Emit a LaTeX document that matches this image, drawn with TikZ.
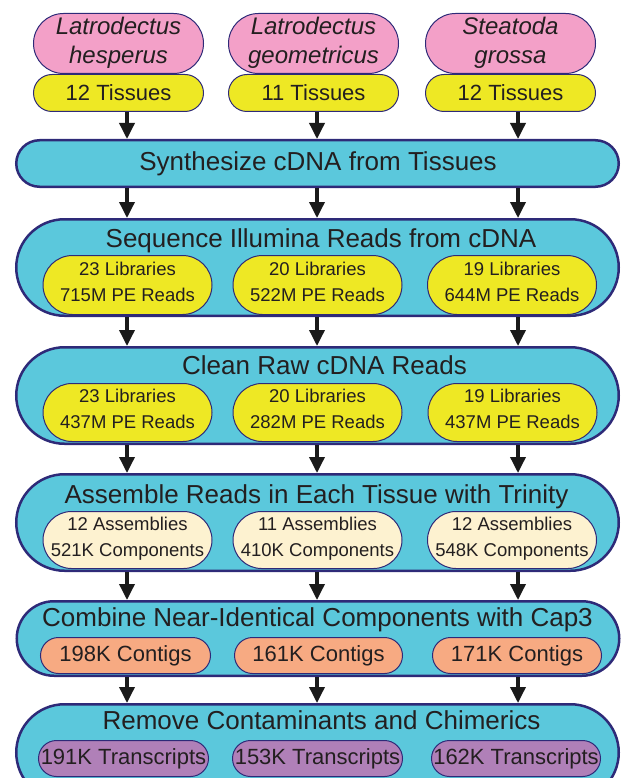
\documentclass[tikz,border=0pt]{standalone}
\usepackage{fontspec}
\setmainfont{Liberation Sans}
\usetikzlibrary{shapes.misc,arrows.meta}
\definecolor{navy}{RGB}{46,42,120}
\definecolor{cyanb}{RGB}{91,200,220}
\definecolor{pinkb}{RGB}{243,160,200}
\definecolor{yelb}{RGB}{238,232,36}
\definecolor{creamb}{RGB}{253,242,208}
\definecolor{orangeb}{RGB}{247,170,130}
\definecolor{purpb}{RGB}{176,128,184}
\definecolor{txt}{RGB}{35,31,32}
\definecolor{arrc}{RGB}{26,26,26}
\begin{document}
\begin{tikzpicture}[x=1pt,y=-1pt,
  outer/.style={rounded rectangle, draw=navy, fill=cyanb, line width=2.5pt, minimum width=602.5pt, inner sep=0pt},
  innerbox/.style={rounded rectangle, draw=navy, line width=1pt, minimum width=169pt, inner sep=0pt},
  ttl/.style={font=\fontsize{26}{30}\selectfont, text=txt, inner sep=0pt, anchor=base},
  spc/.style={font=\fontsize{24}{28}\selectfont\itshape, text=txt, inner sep=0pt, anchor=base},
  big/.style={font=\fontsize{22}{26}\selectfont, text=txt, inner sep=0pt, anchor=base},
  sml/.style={font=\fontsize{18.5}{22}\selectfont, text=txt, inner sep=0pt, anchor=base},
  arr/.style={-{Triangle[width=15pt,length=16pt]}, line width=3.5pt, draw=arrc}]
\useasboundingbox (0,0) rectangle (622,778);
\clip (0,0) rectangle (622,778);

% column coordinates for arrows
\coordinate (x1) at (127,0);
\coordinate (x2) at (317,0);
\coordinate (x3) at (518,0);

% species boxes
\node[innerbox, fill=pinkb, minimum width=170pt, minimum height=60pt] (p1) at (118.5,43.5) {};
\node[innerbox, fill=pinkb, minimum width=170pt, minimum height=60pt] (p2) at (313.5,43.5) {};
\node[innerbox, fill=pinkb, minimum width=170pt, minimum height=60pt] (p3) at (510.5,43.5) {};
\node[spc] (p1a) at (118.5,34.5) {Latrodectus};
\node[spc] (p1b) at (118.5,64) {hesperus};
\node[spc] (p2a) at (313.5,34.5) {Latrodectus};
\node[spc] (p2b) at (313.5,64) {geometricus};
\node[spc] (p3a) at (510.5,34.5) {Steatoda};
\node[spc] (p3b) at (510.5,64) {grossa};

% tissue boxes
\node[innerbox, fill=yelb, minimum width=170pt, minimum height=37pt] (t1) at (118.5,93) {};
\node[innerbox, fill=yelb, minimum width=170pt, minimum height=37pt] (t2) at (313.5,93) {};
\node[innerbox, fill=yelb, minimum width=170pt, minimum height=37pt] (t3) at (510.5,93) {};
\node[big] (t1l) at (118.5,100.7) {12 Tissues};
\node[big] (t2l) at (313.5,100.7) {11 Tissues};
\node[big] (t3l) at (510.5,100.7) {12 Tissues};

% synthesize
\node[outer, minimum height=46.5pt] (synth) at (317.5,163.5) {};
\node[ttl] (synthT) at (318,170.5) {Synthesize cDNA from Tissues};

% sequence
\node[outer, minimum height=96.5pt] (seq) at (317.5,267.5) {};
\node[ttl] (seqT) at (321,247) {Sequence Illumina Reads from cDNA};
\node[innerbox, fill=yelb, minimum height=59pt] (s1) at (127.5,285) {};
\node[innerbox, fill=yelb, minimum height=59pt] (s2) at (317.5,285) {};
\node[innerbox, fill=yelb, minimum height=59pt] (s3) at (512,285) {};
\node[sml] (s1a) at (127.5,275) {23 Libraries};
\node[sml] (s1b) at (127.5,301) {715M PE Reads};
\node[sml] (s2a) at (317.5,275) {20 Libraries};
\node[sml] (s2b) at (317.5,301) {522M PE Reads};
\node[sml] (s3a) at (512,275) {19 Libraries};
\node[sml] (s3b) at (512,301) {644M PE Reads};

% clean
\node[outer, minimum height=96.5pt] (clean) at (317.5,395.5) {};
\node[ttl] (cleanT) at (324.5,374) {Clean Raw cDNA Reads};
\node[innerbox, fill=yelb, minimum height=58pt] (c1) at (127.5,412.5) {};
\node[innerbox, fill=yelb, minimum height=58pt] (c2) at (317.5,412.5) {};
\node[innerbox, fill=yelb, minimum height=58pt] (c3) at (512.5,412.5) {};
\node[sml] (c1a) at (127.5,402) {23 Libraries};
\node[sml] (c1b) at (127.5,428) {437M PE Reads};
\node[sml] (c2a) at (317.5,402) {20 Libraries};
\node[sml] (c2b) at (317.5,428) {282M PE Reads};
\node[sml] (c3a) at (512.5,402) {19 Libraries};
\node[sml] (c3b) at (512.5,428) {437M PE Reads};

% assemble
\node[outer, minimum height=96.5pt] (asm) at (317.5,522.5) {};
\node[ttl] (asmT) at (316.5,503) {Assemble Reads in Each Tissue with Trinity};
\node[innerbox, fill=creamb, minimum height=57pt] (a1) at (127.5,540) {};
\node[innerbox, fill=creamb, minimum height=57pt] (a2) at (317.5,540) {};
\node[innerbox, fill=creamb, minimum height=57pt] (a3) at (512,540) {};
\node[sml] (a1a) at (127.5,530) {12 Assemblies};
\node[sml] (a1b) at (127.5,556) {521K Components};
\node[sml] (a2a) at (317.5,530) {11 Assemblies};
\node[sml] (a2b) at (317.5,556) {410K Components};
\node[sml] (a3a) at (512,530) {12 Assemblies};
\node[sml] (a3b) at (512,556) {548K Components};

% combine
\node[outer, minimum height=74.5pt] (comb) at (318,638.5) {};
\node[ttl] (combT) at (317.5,626) {Combine Near-Identical Components with Cap3};
\node[innerbox, fill=orangeb, minimum width=170pt, minimum height=36pt] (k1) at (125.5,655.5) {};
\node[innerbox, fill=orangeb, minimum width=168pt, minimum height=36pt] (k2) at (318.5,655.5) {};
\node[innerbox, fill=orangeb, minimum width=169pt, minimum height=36pt] (k3) at (517,655.5) {};
\node[big] (k1l) at (125.5,661) {198K Contigs};
\node[big] (k2l) at (318.5,661) {161K Contigs};
\node[big] (k3l) at (517,661) {171K Contigs};

% remove
\node[outer, minimum height=96.5pt] (rem) at (317.5,752.5) {};
\node[ttl] (remT) at (321.5,729) {Remove Contaminants and Chimerics};
\node[innerbox, fill=purpb, minimum width=170pt, minimum height=36pt] (r1) at (123.5,758.5) {};
\node[innerbox, fill=purpb, minimum width=170pt, minimum height=36pt] (r2) at (317.5,758.5) {};
\node[innerbox, fill=purpb, minimum width=169pt, minimum height=36pt] (r3) at (516,758.5) {};
\node[big] (r1l) at (123.5,764) {191K Transcripts};
\node[big] (r2l) at (317.5,764) {153K Transcripts};
\node[big] (r3l) at (516,764) {162K Transcripts};

% arrows
\foreach \c in {1,2,3} {
  \draw[arr] (x\c |- t\c.south) -- (x\c |- synth.north);
}
\foreach \u/\v in {synth/seq, seq/clean, clean/asm, asm/comb, comb/rem} {
  \foreach \c in {1,2,3} {
    \draw[arr] (x\c |- \u.south) -- (x\c |- \v.north);
  }
}
\end{tikzpicture}
\end{document}
